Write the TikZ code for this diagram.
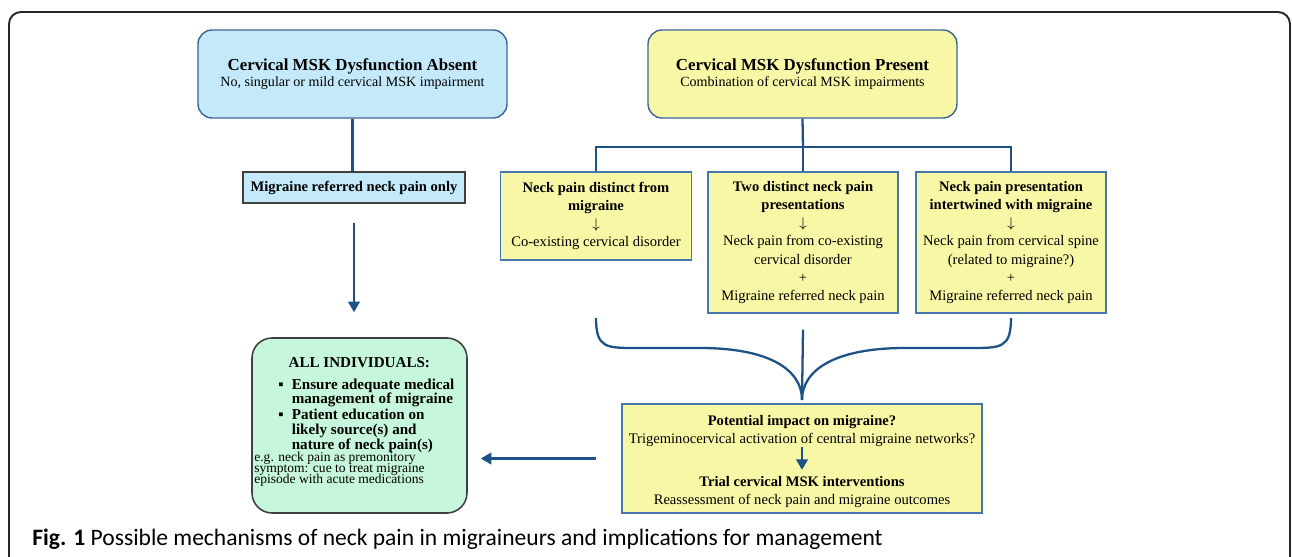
\documentclass[tikz,border=0pt]{standalone}
\usepackage{fontspec}
\setmainfont{Liberation Serif}
\newfontfamily\capfont{Carlito}
\usetikzlibrary{arrows.meta}

\definecolor{skyfill}{RGB}{196,233,250}
\definecolor{lemonfill}{RGB}{247,247,166}
\definecolor{mintfill}{RGB}{198,247,220}
\definecolor{roundline}{RGB}{60,100,150}
\definecolor{squareline}{RGB}{70,118,172}
\definecolor{greyline}{RGB}{64,64,64}
\definecolor{linkblue}{RGB}{28,82,135}

\newcommand{\dnarrow}{$\downarrow$}

\begin{document}
\begin{tikzpicture}[x=0.02cm,y=-0.02cm]
			
			\tikzstyle{bodyfont} = [font=\fontsize{8.3}{10.4}\selectfont]
			\tikzstyle{absentbox} = [rectangle, rounded corners=0.28cm, minimum width=6.18cm, minimum height=1.76cm, align=center, draw=roundline, line width=0.8pt, fill=skyfill, font=\fontsize{8}{9.2}\selectfont]
			\tikzstyle{presentbox} = [absentbox, fill=lemonfill]
			\tikzstyle{onlybox} = [rectangle, minimum width=4.44cm, minimum height=0.62cm, align=center, draw=greyline, line width=0.8pt, fill=skyfill, bodyfont]
			\tikzstyle{mechbox} = [rectangle, minimum width=3.8cm, minimum height=2.82cm, align=center, draw=squareline, line width=0.8pt, fill=lemonfill, bodyfont]
			\tikzstyle{allbox} = [rectangle, rounded corners=0.4cm, minimum width=4.3cm, minimum height=3.5cm, draw=greyline, line width=0.9pt, fill=mintfill]
			\tikzstyle{line} = [draw=linkblue, line width=1.3pt]
			\tikzstyle{arrow} = [line, -{Triangle[width=0.23cm,length=0.21cm]}]
			
			\useasboundingbox (0,0) rectangle (1292,557);
			\draw[line width=1.1pt, draw=black!85, rounded corners=0.24cm] (9,557) -- (9,12) -- (1290,12) -- (1290,557);
			
			\node (absent) [absentbox] at (352.5,74) {{\fontsize{9.6}{11}\selectfont\bfseries Cervical MSK Dysfunction Absent}\\No, singular or mild cervical MSK impairment};
			\node (present) [presentbox] at (802.5,74) {{\fontsize{9.6}{11}\selectfont\bfseries Cervical MSK Dysfunction Present}\\Combination of cervical MSK impairments};
			\node (refonly) [onlybox] at (354,187.5) {\textbf{Migraine referred neck pain only}};
			
			\node (distinct) [mechbox, minimum width=3.82cm, minimum height=1.76cm] at (596,216) {\textbf{Neck pain distinct from}\\\textbf{migraine}\\\dnarrow\\Co-existing cervical disorder};
			\node (twopres) [mechbox] at (803,242.5) {\textbf{Two distinct neck pain}\\\textbf{presentations}\\\dnarrow\\Neck pain from co-existing\\cervical disorder\\+\\Migraine referred neck pain};
			\node (intertw) [mechbox] at (1011,242.5) {\textbf{Neck pain presentation}\\\textbf{intertwined with migraine}\\\dnarrow\\Neck pain from cervical spine\\(related to migraine?)\\+\\Migraine referred neck pain};
			
			\node (impact) [mechbox, minimum width=7.2cm, minimum height=2.18cm] at (802,458.5) {};
			\node (impacttxt) [align=center, inner sep=0pt, bodyfont] at (802,431) {\textbf{Potential impact on migraine?}\\Trigeminocervical activation of central migraine networks?};
			\node (trialtxt) [align=center, inner sep=0pt, bodyfont] at (802,492) {\textbf{Trial cervical MSK interventions}\\Reassessment of neck pain and migraine outcomes};
			
			\node (allind) [allbox] at (359.5,425.5) {};
			\node (alltxt) [anchor=base west, inner sep=0pt] at (254,367) {\begin{minipage}[t]{4.2cm}
					\lineskiplimit=-20pt
					\fontsize{8.6}{8.5}\selectfont\bfseries
					\centerline{ALL INDIVIDUALS:}\vspace{4.5pt}
					\hspace*{0.75cm}\llap{▪\hspace{0.16cm}}Ensure adequate medical\\[-0.5pt]
					\hspace*{0.75cm}management of migraine\\[0.6pt]
					\hspace*{0.75cm}\llap{▪\hspace{0.16cm}}Patient education on\\
					\hspace*{0.75cm}likely source(s) and\\
					\hspace*{0.75cm}nature of neck pain(s)\par
					\vspace{0.4pt}
					\fontsize{7.7}{6.2}\selectfont\mdseries
					e.g. neck pain as premonitory\\
					symptom: cue to treat migraine\\
					episode with acute medications\par
				\end{minipage}};
			
			\coordinate (split) at (803,147);
			\coordinate (braceL) at (596,318);
			\coordinate (braceR) at (1011,318);
			\coordinate (tip) at (802,400);
			
			\draw[line] (absent.south) -- (absent.south |- refonly.north);
			\draw[arrow, shorten <=0.38cm, shorten >=0.5cm] (refonly.south) -- (refonly.south |- allind.north);
			\draw[line] (present.south) -- (split);
			\draw[line] (distinct.north) |- (split) -| (intertw.north);
			\draw[line] (split) -- (twopres.north);
			\draw[line] (braceL) .. controls +(0,30) and +(-30,0) .. ++(40,30) -- (700,348) .. controls +(70,0) and +(0,-30) .. (tip);
			\draw[line] (braceR) .. controls +(0,30) and +(30,0) .. ++(-40,30) -- (905,348) .. controls +(-70,0) and +(0,-30) .. (tip);
			\draw[line] ([yshift=-0.32cm]twopres.south) -- (tip);
			\draw[arrow, shorten >=0.12cm] (impacttxt.south) -- (trialtxt.north);
			\draw[arrow, shorten <=0.5cm, shorten >=0.26cm] (impact.west) -- (impact.west -| allind.east);
			
			\node (caption) [anchor=base west, inner sep=0pt, font=\capfont\fontsize{13.4}{15}\selectfont] at (32,545) {\textbf{Fig. 1} Possible mechanisms of neck pain in migraineurs and implications for management};
			
		\end{tikzpicture}
\end{document}
